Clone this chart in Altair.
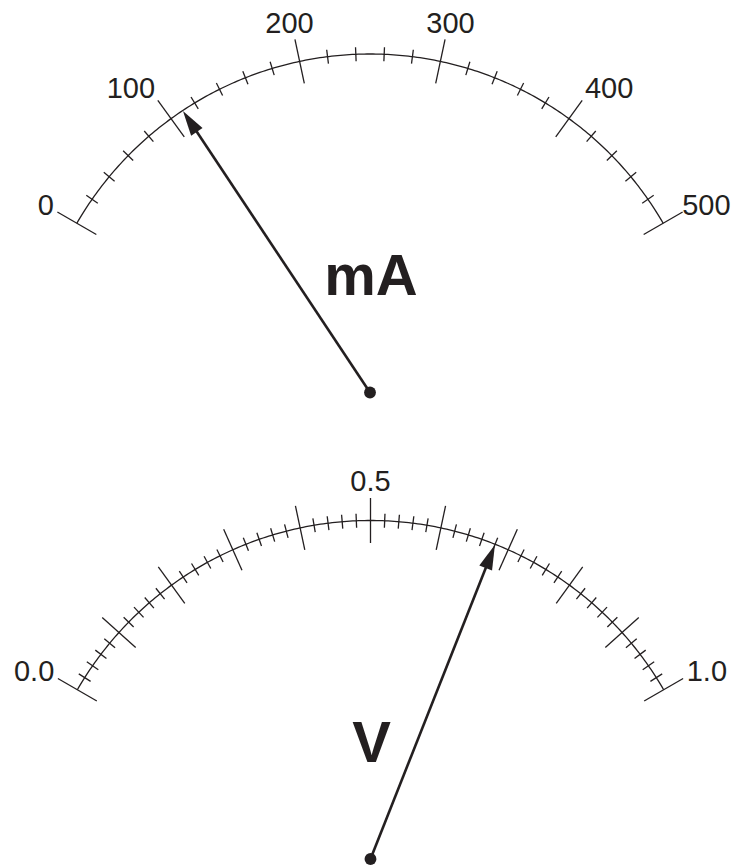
import math
import altair as alt
import pandas as pd

# ---------------- data ----------------
ma_range = [0, 500]
ma_major = [0, 100, 200, 300, 400, 500]
ma_minor = [20, 40, 60, 80, 120, 140, 160, 180, 220, 240, 260, 280,
            320, 340, 360, 380, 420, 440, 460, 480]
ma_label_values = [0, 100, 200, 300, 400, 500]
ma_labels = ["0", "100", "200", "300", "400", "500"]
ma_reading = 110
ma_unit = "mA"

v_range = [0.0, 1.0]
v_major = [0.0, 0.1, 0.2, 0.3, 0.4, 0.5, 0.6, 0.7, 0.8, 0.9, 1.0]
v_minor = [0.02, 0.04, 0.06, 0.08, 0.12, 0.14, 0.16, 0.18,
           0.22, 0.24, 0.26, 0.28, 0.32, 0.34, 0.36, 0.38,
           0.42, 0.44, 0.46, 0.48, 0.52, 0.54, 0.56, 0.58,
           0.62, 0.64, 0.66, 0.68, 0.72, 0.74, 0.76, 0.78,
           0.82, 0.84, 0.86, 0.88, 0.92, 0.94, 0.96, 0.98]
v_label_values = [0.0, 0.5, 1.0]
v_labels = ["0.0", "0.5", "1.0"]
v_reading = 0.68
v_unit = "V"

# ---------------- layout ----------------
INK = "#231f20"
FONT = "Liberation Sans"
R = 338.5
SWEEP = 60.0
CX = 370.0
W, H = 723, 860
gauges = [
    dict(name="mA", cx=CX, cy=392.5, rng=ma_range, major=ma_major, minor=ma_minor,
         lv=ma_label_values, lt=ma_labels, reading=ma_reading, unit=ma_unit),
    dict(name="V", cx=CX + 0.5, cy=859.0, rng=v_range, major=v_major, minor=v_minor,
         lv=v_label_values, lt=v_labels, reading=v_reading, unit=v_unit),
]
LABEL_FS = 29
UNIT_FS = 58


def ang(g, v):
    lo, hi = g["rng"]
    return -SWEEP + 2 * SWEEP * (v - lo) / (hi - lo)


def pt(g, theta, r):
    t = math.radians(theta)
    return g["cx"] + r * math.sin(t), g["cy"] - r * math.cos(t)


def text_w(s):
    w = 0.0
    for ch in s:
        w += 0.278 if ch == "." else 0.556
    return w * LABEL_FS


arc_rows, tick_rows, lab_rows, needle_rows, head_rows, dot_rows, unit_rows = [], [], [], [], [], [], []
for g in gauges:
    for k in range(0, 241):
        th = -SWEEP + k * (2 * SWEEP / 240)
        x, y = pt(g, th, R)
        arc_rows.append(dict(g=g["name"], k=k, x=x, y=y))
    for v in g["major"]:
        th = ang(g, v)
        x1, y1 = pt(g, th, R - 22.5)
        x2, y2 = pt(g, th, R + 22.5)
        tick_rows.append(dict(x=x1, y=y1, x2=x2, y2=y2))
    for v in g["minor"]:
        th = ang(g, v)
        x1, y1 = pt(g, th, R - 7)
        x2, y2 = pt(g, th, R + 7)
        tick_rows.append(dict(x=x1, y=y1, x2=x2, y2=y2))
    for v, s in zip(g["lv"], g["lt"]):
        th = ang(g, v)
        ax, ay = pt(g, th, 364)
        sx = math.copysign(min(1.0, (abs(th) / 36.0) ** 1.5), th) if th != 0 else 0.0
        hw = text_w(s) / 2
        ox = sx * (hw + 1)
        oy = -14 * math.cos(math.radians(th)) ** 1.2
        cx_, cy_ = ax + ox, ay + oy
        cx_ = min(cx_, 8 + W - hw - 0.5)   # keep the text inside the drawing
        # alphabetic baseline so that digit centre sits at (cx_, cy_)
        lab_rows.append(dict(x=cx_, y=cy_ + 0.358 * LABEL_FS, t=s))
    th = ang(g, g["reading"])
    xe, ye = pt(g, th, R - 12)
    needle_rows.append(dict(x=g["cx"], y=g["cy"], x2=xe, y2=ye))
    xt, yt = pt(g, th, R - 0.5)
    head_rows.append(dict(x=xt, y=yt, rot=th % 360))
    dot_rows.append(dict(x=g["cx"], y=g["cy"]))
    unit_rows.append(dict(x=g["cx"] + 1, y=g["cy"] - 97.5, t=g["unit"]))

xs = alt.Scale(domain=[8, 8 + W], nice=False, zero=False)
ys = alt.Scale(domain=[8, 8 + H], nice=False, zero=False, reverse=True)
X = alt.X("x:Q", scale=xs, axis=None)
Y = alt.Y("y:Q", scale=ys, axis=None)

arc = alt.Chart(pd.DataFrame(arc_rows)).mark_line(color=INK, strokeWidth=1.3).encode(
    x=X, y=Y, detail="g:N", order=alt.Order("k:Q"))
ticks = alt.Chart(pd.DataFrame(tick_rows)).mark_rule(color=INK, strokeWidth=1.3).encode(
    x=X, y=Y, x2="x2:Q", y2="y2:Q")
labels = alt.Chart(pd.DataFrame(lab_rows)).mark_text(
    font=FONT, fontSize=LABEL_FS, color=INK, align="center", baseline="alphabetic").encode(
    x=X, y=Y, text="t:N")
needle = alt.Chart(pd.DataFrame(needle_rows)).mark_rule(color=INK, strokeWidth=2.6).encode(
    x=X, y=Y, x2="x2:Q", y2="y2:Q")
heads = alt.Chart(pd.DataFrame(head_rows)).mark_point(
    shape="M0,0L0.6,2.2L-0.6,2.2Z", filled=True, opacity=1, size=520, color=INK, strokeWidth=0).encode(
    x=X, y=Y, angle=alt.Angle("rot:Q", scale=None))
dots = alt.Chart(pd.DataFrame(dot_rows)).mark_circle(size=140, color=INK, opacity=1).encode(x=X, y=Y)
units = alt.Chart(pd.DataFrame(unit_rows)).mark_text(
    font=FONT, fontSize=UNIT_FS, fontWeight="bold", color=INK, align="center",
    baseline="alphabetic").encode(x=X, y=Y, text="t:N")

chart = alt.layer(arc, ticks, labels, needle, heads, dots, units).properties(
    width=W, height=H, padding=0, autosize=alt.AutoSizeParams(type="none")
).configure_view(stroke=None)

chart.save("out.html", embed_options={"renderer": "svg", "actions": False})
